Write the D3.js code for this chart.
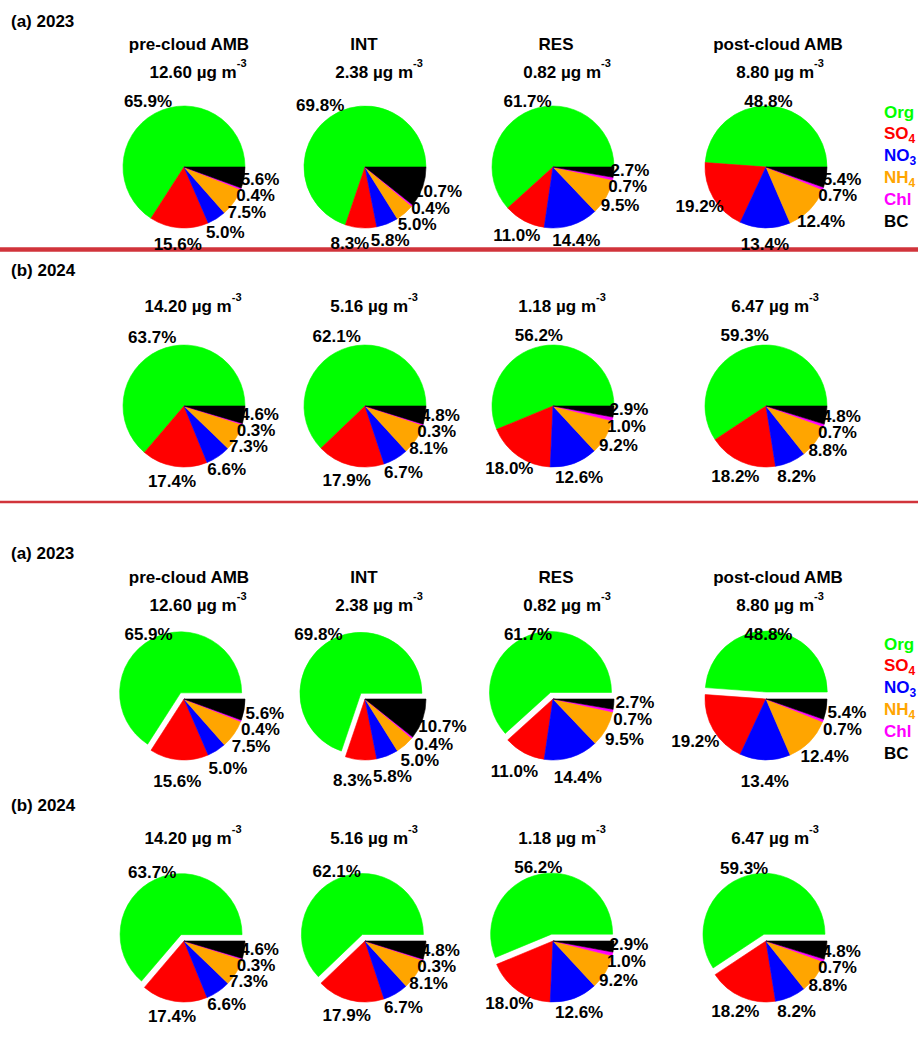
<!DOCTYPE html>
<html><head><meta charset="utf-8">
<script src="https://cdn.jsdelivr.net/npm/d3@7"></script>
<style>
body{margin:0;background:#fff}
svg{display:block}
text{font-family:"Liberation Sans",Arial,sans-serif;font-weight:bold;fill:#000}
</style>
</head><body>
<svg id="chart" width="918" height="1041"></svg>
<script>
// ---------------- data ----------------
const species = ["Org","SO4","NO3","NH4","Chl","BC"];
const speciesColors = ["#00ff00","#ff0000","#0000ff","#ffa500","#ff00ff","#000000"];
const stages = ["pre-cloud AMB","INT","RES","post-cloud AMB"];
const yearLabels = ["(a) 2023","(b) 2024"];
const mass2023 = ["12.60","2.38","0.82","8.80"];
const mass2024 = ["14.20","5.16","1.18","6.47"];
const pct2023_pre  = [65.9,15.6,5.0,7.5,0.4,5.6];
const pct2023_int  = [69.8,8.3,5.8,5.0,0.4,10.7];
const pct2023_res  = [61.7,11.0,14.4,9.5,0.7,2.7];
const pct2023_post = [48.8,19.2,13.4,12.4,0.7,5.4];
const pct2024_pre  = [63.7,17.4,6.6,7.3,0.3,4.6];
const pct2024_int  = [62.1,17.9,6.7,8.1,0.3,4.8];
const pct2024_res  = [56.2,18.0,12.6,9.2,1.0,2.9];
const pct2024_post = [59.3,18.2,8.2,8.8,0.7,4.8];
const pct2023 = [pct2023_pre,pct2023_int,pct2023_res,pct2023_post];
const pct2024 = [pct2024_pre,pct2024_int,pct2024_res,pct2024_post];

// ---------------- layout ----------------
const svg = d3.select("#chart");
const R = 61;
const pieX = [184,365,553,766];
const titleX = [189,364,556,778];
const color = d3.scaleOrdinal().domain(species).range(speciesColors);

const sections = [
  {year:0, data:pct2023, mass:mass2023, explode:0, headY:27,  titleY:50,   concY:78,  cy:167, labR:77, legend:true,  concDx:14},
  {year:1, data:pct2024, mass:mass2024, explode:0, headY:276, titleY:null, concY:312, cy:406, labR:76, legend:false, concDx:9},
  {year:0, data:pct2023, mass:mass2023, explode:7, headY:559, titleY:583,  concY:611, cy:699, labR:82, legend:true,  concDx:14},
  {year:1, data:pct2024, mass:mass2024, explode:7, headY:811, titleY:null, concY:844, cy:941, labR:76, legend:false, concDx:9}
];

// separator lines
svg.append("line").attr("x1",0).attr("x2",918).attr("y1",249.5).attr("y2",249.5)
  .attr("stroke","#d1343b").attr("stroke-width",4.5);
svg.append("line").attr("x1",0).attr("x2",918).attr("y1",502).attr("y2",502)
  .attr("stroke","#d1343b").attr("stroke-width",2.3);

const pie = d3.pie().sort(null).value(d=>d)
  .startAngle(Math.PI/2).endAngle(Math.PI/2 - 2*Math.PI);
const arc = d3.arc().innerRadius(0).outerRadius(R);

function overlaps(a,b,h){
  return Math.abs(a.x-b.x) < (a.w+b.w)/2 + 1 && Math.abs(a.y-b.y) < h;
}

sections.forEach(sec=>{
  const g = svg.append("g");
  g.append("text").attr("x",11).attr("y",sec.headY)
    .attr("font-size",17).text(yearLabels[sec.year]);

  stages.forEach((st,ci)=>{
    const cx = pieX[ci], cy = sec.cy;
    if(sec.titleY!==null){
      g.append("text").attr("x",titleX[ci]).attr("y",sec.titleY)
        .attr("text-anchor","middle").attr("font-size",17).text(st);
    }
    const ct = g.append("text").attr("x",cx+sec.concDx).attr("y",sec.concY)
      .attr("text-anchor","middle").attr("font-size",17);
    ct.append("tspan").text(sec.mass[ci]+" \u00b5g m");
    ct.append("tspan").attr("font-size",11).attr("dy",-11).text("-3");

    const vals = sec.data[ci];
    const arcs = pie(vals);
    const pg = g.append("g").attr("transform",`translate(${cx},${cy})`);
    arcs.forEach((a,i)=>{
      const mid = (a.startAngle+a.endAngle)/2;
      const off = (i===0) ? sec.explode : 0;
      pg.append("path").attr("d",arc(a))
        .attr("transform",`translate(${off*Math.sin(mid)},${-off*Math.cos(mid)})`)
        .attr("fill",color(species[i]))
        .attr("stroke",color(species[i])).attr("stroke-width",0.6);
    });

    // labels
    const minY = sec.concY + 23 - cy;   // keep the first label clear of the mass text
    const labs = arcs.map((a,i)=>{
      const mid = (a.startAngle+a.endAngle)/2;
      const t = pg.append("text").attr("text-anchor","middle")
        .attr("font-size",17).attr("dy","0.36em")
        .text(vals[i].toFixed(1)+"%");
      return {t, ang:mid, w:t.node().getComputedTextLength()};
    });
    const pos = l => {
      l.x = sec.labR*Math.sin(l.ang); l.y = -sec.labR*Math.cos(l.ang);
      if(l.y < minY){ const k = minY/l.y; l.x*=k; l.y=minY; }
    };
    labs.forEach(pos);
    const step = 0.004;
    for(let it=0; it<800; it++){
      let moved=false;
      for(let i=0;i<labs.length;i++){
        for(let j=i+1;j<labs.length;j++){
          const A=labs[i], B=labs[j];
          if(overlaps(A,B,16)){
            if(A.ang>B.ang){A.ang+=step;B.ang-=step;} else {A.ang-=step;B.ang+=step;}
            pos(A); pos(B); moved=true;
          }
        }
      }
      if(!moved) break;
    }
    labs.forEach(l=>l.t.attr("x",l.x).attr("y",l.y));
  });

  if(sec.legend){
    const lx = 884, ly0 = sec.cy - 49.5, dy = 21.8;
    species.forEach((s,i)=>{
      const t = g.append("text").attr("x",lx).attr("y",ly0+i*dy)
        .attr("font-size",17).style("fill",color(s));
      const m = s.match(/^([A-Za-z]+)(\d*)$/);
      t.append("tspan").text(m[1]);
      if(m[2]) t.append("tspan").attr("font-size",12).attr("dy",4).text(m[2]);
    });
  }
});
</script>
</body></html>
